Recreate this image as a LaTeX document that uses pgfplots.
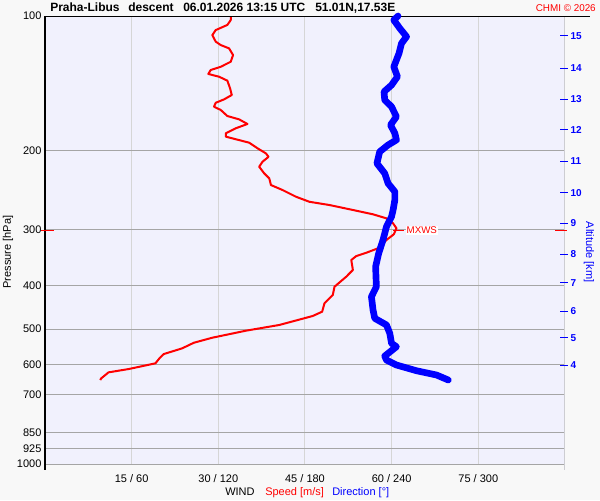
\documentclass[border=0pt]{standalone}
\usepackage{pgfplots}
\pgfplotsset{compat=1.18}
\usepackage{fontspec}
\setmainfont{Liberation Sans}
\definecolor{pagebg}{RGB}{248,248,248}
\definecolor{plotbg}{RGB}{241,241,253}
\definecolor{hgrid}{RGB}{165,165,165}
\definecolor{vgrid}{RGB}{214,214,214}
\definecolor{rgray}{RGB}{205,205,210}
\newcommand{\fs}[1]{\fontsize{#1}{#1}\selectfont}
\tikzset{alt/.style={anchor=west, inner sep=0pt, xshift=1.6pt, font=\bfseries\fontsize{7.5pt}{7.5pt}\selectfont, text=blue}}
\begin{document}
\begin{tikzpicture}
\useasboundingbox (0,0) rectangle (450pt,375pt);
\fill[pagebg] (0,0) rectangle (450pt,375pt);
\begin{axis}[
  at={(33.75pt,27pt)}, anchor=south west,
  scale only axis, width=390pt, height=336pt,
  xmin=0, xmax=90, ymode=log, ymin=100, ymax=1000, y dir=reverse,
  axis background/.style={fill=plotbg},
  axis line style={draw=none},
  major tick length=0pt, minor tick length=0pt,
  xtick={15,30,45,60,75},
  xticklabels={15 / 60, 30 / 120, 45 / 180, 60 / 240, 75 / 300},
  ytick={100,200,300,400,500,600,700,850,925,1000},
  yticklabels={100,200,300,400,500,600,700,850,925,1000},
  minor ytick={},
  xmajorgrids, ymajorgrids,
  x grid style={vgrid, line width=0.75pt},
  y grid style={hgrid, line width=0.75pt},
  ticklabel style={font=\fs{8.25pt}},
  /pgf/number format/assume math mode=true,
  yticklabel style={anchor=east, inner sep=0pt, xshift=-2.5pt},
  xticklabel style={anchor=north, inner sep=0pt, yshift=-7.5pt},
  clip=false,
]
\addplot[red, line width=1.5pt, line join=round] coordinates {
(32.15,100)(32.15,102.1)(31.56,104.7)(29.55,107.5)(28.96,110.3)(29.55,114.1)(30.42,116.1)(31.86,118.1)(32.55,122.2)(32.15,126.5)(30.42,129.8)(28.68,132.0)(28.26,134.7)(30.12,136.6)(31.56,139.4)(32.03,145.0)(32.33,150.1)(30.99,153.5)(29.55,156.2)(29.25,159.4)(30.42,162.1)(31.56,167.2)(33.60,170.1)(35.04,174.2)(33.02,178.1)(31.29,182.7)(31.29,185.9)(33.02,188.4)(35.34,191.8)(36.78,197.4)(38.24,202.6)(38.69,206.2)(37.65,211.5)(37.07,217.0)(37.94,224.5)(38.81,230.3)(39.11,238.4)(41.12,244.6)(43.45,253.2)(45.76,259.8)(49.24,264.2)(53.29,271.0)(56.77,277.1)(59.10,282.9)(60.24,290.2)(60.83,297.8)(60.37,307.1)(59.10,316.2)(57.64,330.0)(55.62,337.6)(53.88,343.4)(53.01,350.5)(53.29,368.9)(52.14,381.9)(50.11,402.0)(49.81,419.6)(48.37,437.9)(47.97,457.1)(46.34,467.3)(40.55,489.4)(34.76,504.0)(28.96,522.5)(25.78,536.1)(23.74,551.8)(20.56,568.3)(19.81,580.9)(19.12,596.0)(14.48,613.8)(11.00,624.3)(9.73,643.9)(9.56,649.5)
};
% frame
\draw[rgray, line width=0.75pt] (axis description cs:1,1) -- (axis description cs:1,-0.0134);
\draw[black, line width=0.75pt] (axis description cs:0,1) -- (axis description cs:0,-0.0134);
\draw[black, line width=0.75pt] (axis description cs:0,1) -- (axis description cs:1.048,1);
% MXWS markers
\draw[red, line width=0.75pt] (axis cs:-0.7,301) -- (axis cs:1.6,301);
\draw[red, line width=0.75pt] (axis cs:88.3,301) -- (axis cs:90.3,301);
\draw[red, line width=0.75pt] (axis cs:60.2,301) -- (axis cs:62.1,301)
  node[anchor=west, fill=white, inner sep=0.6pt, xshift=1.2pt, font=\fs{7.3pt}, text=red] {MXWS};
% altitude ticks
\draw[blue, line width=0.75pt] (axis cs:89.2,110.6) -- (axis cs:90.5,110.6) node[alt] {15};
\draw[blue, line width=0.75pt] (axis cs:89.2,130.8) -- (axis cs:90.5,130.8) node[alt] {14};
\draw[blue, line width=0.75pt] (axis cs:89.2,153.5) -- (axis cs:90.5,153.5) node[alt] {13};
\draw[blue, line width=0.75pt] (axis cs:89.2,179.6) -- (axis cs:90.5,179.6) node[alt] {12};
\draw[blue, line width=0.75pt] (axis cs:89.2,210.7) -- (axis cs:90.5,210.7) node[alt] {11};
\draw[blue, line width=0.75pt] (axis cs:89.2,248.0) -- (axis cs:90.5,248.0) node[alt] {10};
\draw[blue, line width=0.75pt] (axis cs:89.2,290.1) -- (axis cs:90.5,290.1) node[alt] {9};
\draw[blue, line width=0.75pt] (axis cs:89.2,340.4) -- (axis cs:90.5,340.4) node[alt] {8};
\draw[blue, line width=0.75pt] (axis cs:89.2,393.9) -- (axis cs:90.5,393.9) node[alt] {7};
\draw[blue, line width=0.75pt] (axis cs:89.2,455.5) -- (axis cs:90.5,455.5) node[alt] {6};
\draw[blue, line width=0.75pt] (axis cs:89.2,522.5) -- (axis cs:90.5,522.5) node[alt] {5};
\draw[blue, line width=0.75pt] (axis cs:89.2,601.2) -- (axis cs:90.5,601.2) node[alt] {4};
\end{axis}
\begin{axis}[
  at={(33.75pt,27pt)}, anchor=south west,
  scale only axis, width=390pt, height=336pt,
  xmin=0, xmax=360, ymode=log, ymin=100, ymax=1000, y dir=reverse,
  hide axis, clip=false,
]
\addplot[blue, line width=5pt, line join=round, line cap=round] coordinates {
(244.4,100)(241.5,102.1)(245.6,106.5)(250.3,111.2)(246.8,115.1)(245.1,121.1)(241.5,129.8)(244.0,136.6)(239.9,142.6)(234.7,147.6)(235.2,154.0)(239.9,159.4)(243.3,167.8)(239.2,175.1)(242.2,182.7)(243.3,189.1)(237.5,194.1)(231.7,200.9)(229.8,213.3)(235.2,224.5)(237.5,236.3)(242.2,246.7)(242.2,257.4)(241.0,271.0)(239.9,280.5)(236.4,295.3)(234.0,316.2)(231.0,338.7)(228.9,362.7)(229.4,402.0)(226.0,423.2)(227.1,453.1)(228.3,473.0)(236.4,489.4)(238.7,510.9)(239.9,537.8)(243.3,547.3)(235.2,574.1)(236.4,586.1)(243.3,601.2)(257.2,619.2)(271.1,633.0)(279.2,649.5)
};
\end{axis}
\begin{scope}[x=0.75pt, y=-0.75pt, yshift=375pt]
\node[anchor=base west, inner sep=0pt, font=\bfseries\fs{9pt}] at (50,12) {Praha-Libus};
\node[anchor=base west, inner sep=0pt, font=\bfseries\fs{9pt}] at (128,12) {descent};
\node[anchor=base west, inner sep=0pt, font=\bfseries\fs{9pt}] at (183,12) {06.01.2026 13:15 UTC};
\node[anchor=base west, inner sep=0pt, font=\bfseries\fs{9pt}] at (315,12) {51.01N,17.53E};
\node[anchor=base east, inner sep=0pt, font=\fs{7.4pt}, text=red] at (596,12) {CHMI © 2026};
\node[anchor=base west, inner sep=0pt, font=\fs{8.25pt}] at (225,495) {WIND};
\node[anchor=base west, inner sep=0pt, font=\fs{8.25pt}, text=red] at (265,495) {Speed [m/s]};
\node[anchor=base west, inner sep=0pt, font=\fs{8.25pt}, text=blue] at (332,495) {Direction [°]};
\node[rotate=90, inner sep=0pt, font=\fs{8.25pt}] at (8,252) {Pressure [hPa]};
\node[rotate=-90, inner sep=0pt, font=\fs{8.25pt}, text=blue] at (589,252) {Altitude [km]};
\end{scope}
\end{tikzpicture}
\end{document}
